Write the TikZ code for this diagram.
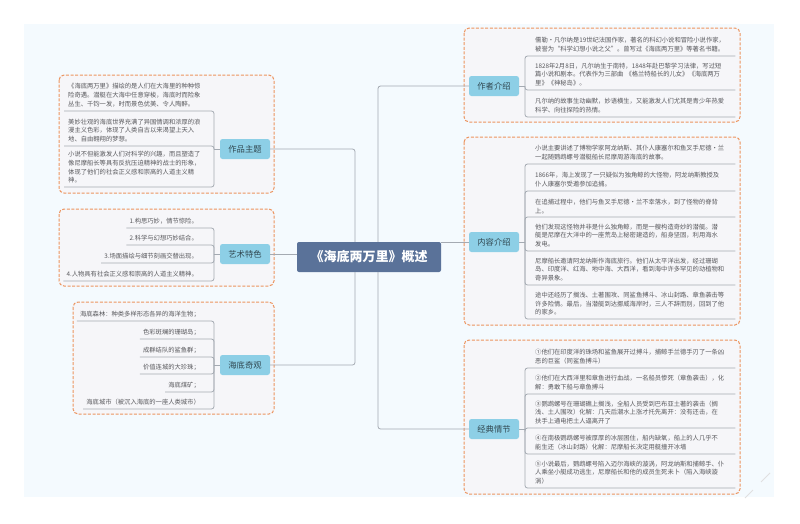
\documentclass[tikz,border=0pt]{standalone}
\usepackage{fontspec}
\setmainfont{Noto Sans CJK SC}
\usepackage{xcolor}
\usepackage{tikz}
\usetikzlibrary{positioning,calc}
\definecolor{pagebg}{HTML}{F4FAFE}
\definecolor{framebg}{HTML}{F6F6F9}
\definecolor{frameline}{HTML}{EC945F}
\definecolor{linkgray}{HTML}{A4AAB2}
\definecolor{topicblue}{HTML}{8DCFE6}
\definecolor{rootblue}{HTML}{5A7299}
\definecolor{leaftext}{HTML}{58585C}
\tikzstyle{root} = [rectangle, rounded corners=2, fill=rootblue, text=white, minimum width=144, minimum height=30, inner sep=0, font=\fontsize{13}{15}\selectfont\bfseries]
\tikzstyle{topic} = [rectangle, rounded corners=2.5, fill=topicblue, text=black!65!topicblue, minimum width=50, minimum height=20, inner sep=0, font=\fontsize{8.3}{10}\selectfont]
\tikzstyle{frame} = [draw=frameline, fill=framebg, line width=1, rounded corners=5, dash pattern=on 3pt off 1.6pt]
\tikzstyle{leaf} = [anchor=south west, text width=190, inner xsep=10, inner ysep=3.4, align=left, text=leaftext, font=\fontsize{6.3}{8.9}\selectfont]
\tikzstyle{leafleft} = [leaf, text width=142, inner xsep=4]
\tikzstyle{leafshort} = [anchor=south east, inner xsep=3, inner ysep=3.4, text=leaftext, font=\fontsize{6.3}{8.9}\selectfont]
\tikzstyle{link} = [draw=linkgray, line width=0.8, rounded corners=2.5]

\begin{document}
\begin{tikzpicture}[x=1pt,y=-1pt]
    \useasboundingbox (0,0) rectangle (800,523);
    \fill[pagebg] (24,24) rectangle (774,497);
    \draw[black!12, line width=0.8] (745,498) -- (753,490) (761,482) -- (770,473);
    \draw[frame] (464,28) rectangle (740,122);
    \draw[frame] (464,137) rectangle (740,325);
    \draw[frame] (464,340) rectangle (740,494);
    \draw[frame] (59,75) rectangle (274,193);
    \draw[frame] (59,209) rectangle (274,286);
    \draw[frame] (73,302) rectangle (274,414);
    % centre and branches
    \node[root] (root) at (369,257) {《海底两万里》概述};
    \node[topic] (author) at (494,86) {作者介绍};
    \node[topic] (story) at (494,242) {内容介绍};
    \node[topic] (plot) at (494,429) {经典情节};
    \node[topic] (theme) at (245,149) {作品主题};
    \node[topic] (art) at (245,254) {艺术特色};
    \node[topic] (sights) at (245,365) {海底奇观};
    \draw[link] (root.north -| 378,0) |- (author.west);
    \draw[link] (root.south -| 378,0) |- (plot.west);
    \draw[link] (root.north -| 355,0) |- (theme.east);
    \draw[link] (root.south -| 355,0) |- (sights.east);
    \draw[link] (root.east |- story) -- (story.west);
    \draw[link] (root.west |- art) -- (art.east);
    % author
    \node[leaf] (a1) at (525,56) {儒勒·凡尔纳是19世纪法国作家，著名的科幻小说和冒险小说作家，\\被誉为“科学幻想小说之父”。曾写过《海底两万里》等著名书籍。};
    \node[leaf] (a2) at (525,90) {1828年2月8日，凡尔纳生于南特，1848年赴巴黎学习法律，写过短\\篇小说和剧本。代表作为三部曲 《格兰特船长的儿女》《海底两万\\里》《神秘岛》。};
    \node[leaf] (a3) at (525,117) {凡尔纳的故事生动幽默，妙语横生，又能激发人们尤其是青少年热爱\\科学、向往探险的热情。};
    \coordinate (railauthor) at (525,86);
    \draw[link] (author.east) -- (railauthor);
    \foreach \leafname in {a1,a2,a3}
        \draw[link] (railauthor) |- (\leafname.south east);
    % story
    \node[leaf] (s1) at (525,164) {小说主要讲述了博物学家阿龙纳斯、其仆人康塞尔和鱼叉手尼德·兰\\一起随鹦鹉螺号潜艇船长尼摩周游海底的故事。};
    \node[leaf] (s2) at (525,191) {1866年，海上发现了一只疑似为独角鲸的大怪物，阿龙纳斯教授及\\仆人康塞尔受邀参加追捕。};
    \node[leaf] (s3) at (525,217) {在追捕过程中，他们与鱼叉手尼德·兰不幸落水，到了怪物的脊背\\上。};
    \node[leaf] (s4) at (525,251) {他们发现这怪物并非是什么独角鲸，而是一艘构造奇妙的潜艇。潜\\艇是尼摩在大洋中的一座荒岛上秘密建造的，船身坚固，利用海水\\发电。};
    \node[leaf] (s5) at (525,285) {尼摩船长邀请阿龙纳斯作海底旅行。他们从太平洋出发，经过珊瑚\\岛、印度洋、红海、地中海、大西洋，看到海中许多罕见的动植物和\\奇异景象。};
    \node[leaf] (s6) at (525,319) {途中还经历了搁浅、土著围攻、同鲨鱼搏斗、冰山封路、章鱼袭击等\\许多险情。最后，当潜艇到达挪威海岸时，三人不辞而别，回到了他\\的家乡。};
    \coordinate (railstory) at (525,242);
    \draw[link] (story.east) -- (railstory);
    \foreach \leafname in {s1,s2,s3,s4,s5,s6}
        \draw[link] (railstory) |- (\leafname.south east);
    % plot
    \node[leaf] (p1) at (525,368) {①他们在印度洋的珠场和鲨鱼展开过搏斗，捕鲸手兰德手刃了一条凶\\恶的巨鲨（同鲨鱼搏斗）};
    \node[leaf] (p2) at (525,394) {②他们在大西洋里和章鱼进行血战，一名船员惨死（章鱼袭击），化\\解：勇敢下船与章鱼搏斗};
    \node[leaf] (p3) at (525,428) {③鹦鹉螺号在珊瑚礁上搁浅，全船人员受到巴布亚土著的袭击（搁\\浅、土人围攻）化解：几天后潮水上涨才托先离开：没有还击，在\\扶手上通电把土人逼离开了};
    \node[leaf] (p4) at (525,454) {④在南极鹦鹉螺号被厚厚的冰层困住，船内缺氧，船上的人几乎不\\能生还（冰山封路）化解：尼摩船长决定用艇撞开冰墙};
    \node[leaf] (p5) at (525,488) {⑤小说最后，鹦鹉螺号陷入迈尔海峡的漩涡，阿龙纳斯和捕鲸手、仆\\人乘坐小艇成功逃生，尼摩船长和他的成员生死未卜（陷入海峡漩\\涡）};
    \coordinate (railplot) at (525,429);
    \draw[link] (plot.east) -- (railplot);
    \foreach \leafname in {p1,p2,p3,p4,p5}
        \draw[link] (railplot) |- (\leafname.south east);
    % theme
    \node[leafleft] (t1) at (64,111) {《海底两万里》描绘的是人们在大海里的种种惊\\险奇遇。潜艇在大海中任意穿梭，海底时而险象\\丛生、千钧一发，时而景色优美、令人陶醉。};
    \node[leafleft] (t2) at (64,146) {美妙壮观的海底世界充满了异国情调和浓厚的浪\\漫主义色彩，体现了人类自古以来渴望上天入\\地、自由翱翔的梦想。};
    \node[leafleft] (t3) at (64,187) {小说不但能激发人们对科学的兴趣，而且塑造了\\像尼摩船长等具有反抗压迫精神的战士的形象，\\体现了他们的社会正义感和崇高的人道主义精\\神。};
    \coordinate (railtheme) at (214,149);
    \draw[link] (theme.west) -- (railtheme);
    \foreach \leafname in {t1,t2,t3}
        \draw[link] (railtheme) |- (\leafname.south west);
    % art
    \node[leafshort] (f1) at (201,228) {1.构思巧妙，情节惊险。};
    \node[leafshort] (f2) at (201,245) {2.科学与幻想巧妙结合。};
    \node[leafshort] (f3) at (201,263) {3.场面描绘与细节刻画交替出现。};
    \node[leafshort] (f4) at (201,281) {4.人物具有社会正义感和崇高的人道主义精神。};
    \coordinate (railart) at (214,254);
    \draw[link] (art.west) -- (railart);
    \foreach \leafname in {f1,f2,f3,f4}
        \draw[link] (railart) |- (\leafname.south west);
    % sights
    \node[leafshort] (w1) at (203,321) {海底森林：种类多样形态各异的海洋生物；};
    \node[leafshort] (w2) at (203,339) {色彩斑斓的珊瑚岛；};
    \node[leafshort] (w3) at (203,357) {成群结队的鲨鱼群；};
    \node[leafshort] (w4) at (203,374) {价值连城的大珍珠；};
    \node[leafshort] (w5) at (203,392) {海底煤矿；};
    \node[leafshort] (w6) at (203,409) {海底城市（被沉入海底的一座人类城市）};
    \coordinate (railsights) at (214,365);
    \draw[link] (sights.west) -- (railsights);
    \foreach \leafname in {w1,w2,w3,w4,w5,w6}
        \draw[link] (railsights) |- (\leafname.south west);
\end{tikzpicture}
\end{document}
